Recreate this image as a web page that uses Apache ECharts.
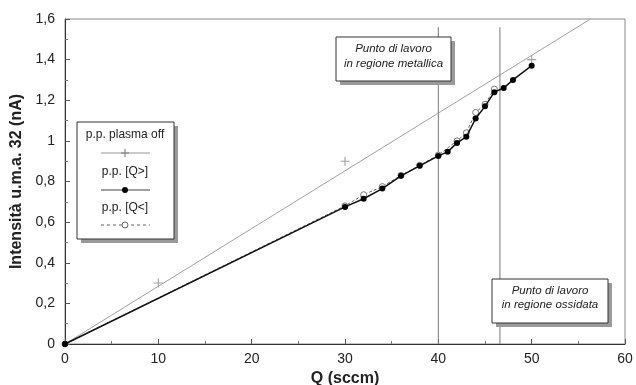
<!DOCTYPE html>
<html>
<head>
<meta charset="utf-8">
<script src="https://cdn.jsdelivr.net/npm/echarts@6/dist/echarts.min.js"></script>
<style>
  html, body { margin: 0; padding: 0; background: #fff; }
  #chart { width: 636px; height: 385px; }
</style>
</head>
<body>
<div id="chart"></div>
<script>
// p.p. plasma off (crosses) and its fitted line
const qOff = [10, 30, 50];
const iOff = [0.3, 0.9, 1.4];
const fitQ = [0, 56.3];
const fitI = [0, 1.6];

// p.p. [Q>] filled dots
const qUp = [0, 30, 32, 34, 36, 38, 40, 41, 42, 43, 44, 45, 46, 47, 48, 50];
const iUp = [0, 0.675, 0.715, 0.765, 0.828, 0.877, 0.926, 0.946, 0.99, 1.02, 1.11, 1.17, 1.24, 1.26, 1.30, 1.37];

// p.p. [Q<] open circles
const qDown = [0, 30, 32, 34, 36, 38, 40, 42, 43, 44, 45, 46];
const iDown = [0, 0.68, 0.735, 0.775, 0.83, 0.88, 0.93, 1.0, 1.04, 1.14, 1.18, 1.255];

// working points (vertical lines)
const workQ = [40, 46.6];
const workTop = 1.56;

const pair = (xs, ys) => xs.map((x, i) => [x, ys[i]]);
const comma = v => String(v).replace('.', ',');
const font = 'Liberation Sans, Arial, sans-serif';
const plusPath = 'path://M4.4,0h1.2v4.4h4.4v1.2h-4.4v4.4h-1.2v-4.4h-4.4v-1.2h4.4z';

const chart = echarts.init(document.getElementById('chart'));

const boxWithShadow = (x, y, w, h, lines, lineYs) => {
  const els = [
    { type: 'rect', shape: { x: x + 4, y: y + 4, width: w, height: h }, style: { fill: '#9a9a9a' }, z: 10 },
    { type: 'rect', shape: { x: x, y: y, width: w, height: h }, style: { fill: '#fff', stroke: '#333', lineWidth: 1 }, z: 11 }
  ];
  lines.forEach((t, i) => {
    els.push({
      type: 'text', x: x + w / 2, y: lineYs[i], z: 12,
      style: {
        text: t, fill: '#222', font: 'italic 11.5px ' + font,
        align: 'center', verticalAlign: 'middle'
      }
    });
  });
  return els;
};

const legendText = (t, y) => ({
  type: 'text', x: 125, y: y, z: 12,
  style: { text: t, fill: '#222', font: '12px ' + font, align: 'center', verticalAlign: 'middle' }
});

const legendEls = [
  { type: 'rect', shape: { x: 81, y: 126, width: 97, height: 117 }, style: { fill: '#9a9a9a' }, z: 10 },
  { type: 'rect', shape: { x: 77, y: 122, width: 97, height: 117 }, style: { fill: '#fff', stroke: '#333', lineWidth: 1 }, z: 11 },
  legendText('p.p. plasma off', 135),
  { type: 'line', shape: { x1: 101, y1: 153, x2: 150, y2: 153 }, style: { stroke: '#999', lineWidth: 1 }, z: 12 },
  { type: 'line', shape: { x1: 125, y1: 149, x2: 125, y2: 157 }, style: { stroke: '#888', lineWidth: 1.2 }, z: 13 },
  { type: 'line', shape: { x1: 121, y1: 153, x2: 129, y2: 153 }, style: { stroke: '#888', lineWidth: 1.2 }, z: 13 },
  legendText('p.p. [Q>]', 172),
  { type: 'line', shape: { x1: 101, y1: 190, x2: 150, y2: 190 }, style: { stroke: '#444', lineWidth: 1.2 }, z: 12 },
  { type: 'circle', shape: { cx: 125, cy: 190, r: 3 }, style: { fill: '#000' }, z: 13 },
  legendText('p.p. [Q<]', 208),
  { type: 'line', shape: { x1: 101, y1: 225, x2: 150, y2: 225 }, style: { stroke: '#666', lineWidth: 1, lineDash: [3, 3] }, z: 12 },
  { type: 'circle', shape: { cx: 125, cy: 225, r: 3 }, style: { fill: '#fff', stroke: '#666', lineWidth: 1 }, z: 13 }
];

chart.setOption({
  animation: false,
  grid: {
    left: 65, right: 11, top: 19, bottom: 41, outerBoundsMode: 'none',
    show: true, borderColor: '#8a8a8a', borderWidth: 1
  },
  xAxis: {
    type: 'value', min: 0, max: 60, interval: 10,
    name: 'Q (sccm)', nameLocation: 'middle', nameGap: 23,
    nameTextStyle: { fontFamily: font, fontSize: 16, fontWeight: 'bold', color: '#222' },
    axisLine: { lineStyle: { color: '#333', width: 1 } },
    axisTick: { inside: true, length: 5, lineStyle: { color: '#555' } },
    minorTick: { show: true, splitNumber: 2, length: 3, lineStyle: { color: '#777' } },
    axisLabel: { fontFamily: font, fontSize: 14, color: '#222', margin: 8 },
    splitLine: { show: false }
  },
  yAxis: {
    type: 'value', min: 0, max: 1.6, interval: 0.2,
    name: 'Intensità u.m.a. 32 (nA)', nameLocation: 'middle', nameGap: 35, nameRotate: 90,
    nameTextStyle: { fontFamily: font, fontSize: 16, fontWeight: 'bold', color: '#222' },
    axisLine: { show: true, lineStyle: { color: '#333', width: 1 } },
    axisTick: { show: true, inside: true, length: 5, lineStyle: { color: '#555' } },
    minorTick: { show: true, splitNumber: 2, length: 3, lineStyle: { color: '#777' } },
    axisLabel: { fontFamily: font, fontSize: 14, color: '#222', margin: 10, formatter: v => comma(Math.round(v * 10) / 10) },
    splitLine: { show: false }
  },
  series: [
    {
      name: 'fit', type: 'line', data: pair(fitQ, fitI), symbol: 'none', z: 2,
      lineStyle: { color: '#a0a0a0', width: 1 }
    },
    {
      name: 'p.p. plasma off', type: 'scatter', data: pair(qOff, iOff), symbol: plusPath, symbolSize: 9, z: 3,
      itemStyle: { color: '#8a8a8a' }
    },
    ...workQ.map(q => ({
      name: 'work', type: 'line', data: [[q, 0], [q, workTop]], symbol: 'none', z: 2,
      lineStyle: { color: '#7a7a7a', width: 1 }
    })),
    {
      name: 'p.p. [Q<]', type: 'line', data: pair(qDown, iDown), symbol: 'circle', symbolSize: 6, z: 4,
      lineStyle: { color: '#666', width: 1, type: [3, 2] },
      itemStyle: { color: '#fff', borderColor: '#777', borderWidth: 1 }
    },
    {
      name: 'p.p. [Q>]', type: 'line', data: pair(qUp, iUp), symbol: 'circle', symbolSize: 6, z: 5,
      lineStyle: { color: '#111', width: 1.5 },
      itemStyle: { color: '#000' }
    }
  ],
  graphic: [
    ...legendEls,
    ...boxWithShadow(336, 37, 115, 44, ['Punto di lavoro', 'in regione metallica'], [49, 64]),
    ...boxWithShadow(492, 279, 116, 44, ['Punto di lavoro', 'in regione ossidata'], [291, 305])
  ]
});
</script>
</body>
</html>
